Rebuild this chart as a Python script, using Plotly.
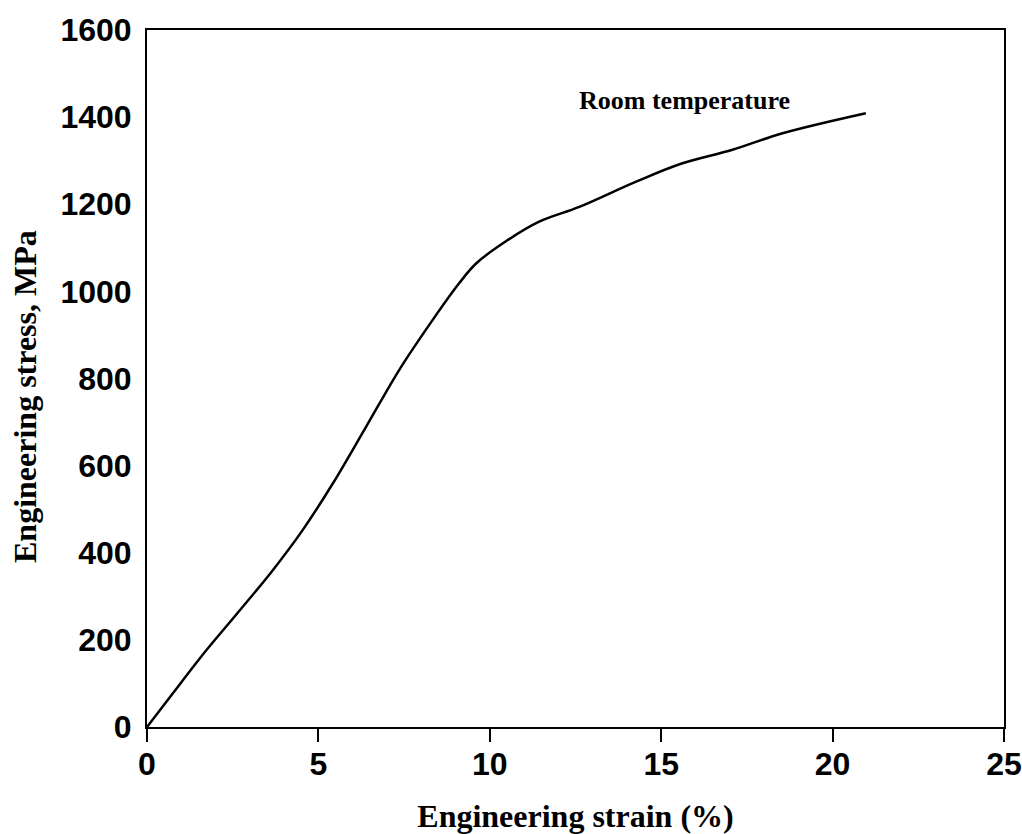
import plotly.graph_objects as go

strain = [0, 0.75, 1.73, 2.55, 3.67, 4.54, 5.42, 6.39, 7.36, 8.33, 9.11, 9.60,
          10.47, 11.44, 12.61, 14.27, 15.62, 17.08, 18.54, 20.97]
stress = [0, 77, 176, 253, 360, 452, 559, 689, 820, 934, 1019, 1064,
          1115, 1160, 1194, 1252, 1294, 1325, 1363, 1409]

x_ticks = [0, 5, 10, 15, 20, 25]
y_ticks = [0, 200, 400, 600, 800, 1000, 1200, 1400, 1600]

sans = "Liberation Sans, Arial, sans-serif"
serif = "Liberation Serif, Times New Roman, serif"

fig = go.Figure()
fig.add_trace(go.Scatter(x=strain, y=stress, mode="lines",
                         line=dict(color="black", width=2.5, shape="spline", smoothing=1.0),
                         showlegend=False, hoverinfo="skip"))

fig.add_annotation(x=12.55, y=1439, text="<b>Room temperature</b>", showarrow=False,
                   xanchor="left", yanchor="middle",
                   font=dict(family=serif, size=26, color="black"))

# y-axis title (placed as rotated annotation to match reference position)
fig.add_annotation(xref="paper", yref="paper", x=0, y=0.4735, xshift=-122,
                   text="<b>Engineering stress, MPa</b>", textangle=-90, showarrow=False,
                   xanchor="center", yanchor="middle",
                   font=dict(family=serif, size=32, color="black"))

fig.update_xaxes(range=[0, 25], tickvals=x_ticks, ticktext=[str(v) for v in x_ticks],
                 showgrid=False, zeroline=False,
                 showline=True, linecolor="black", linewidth=2, mirror=True,
                 ticks="outside", ticklen=13, tickwidth=2, tickcolor="black",
                 ticklabelstandoff=-5,
                 tickfont=dict(family=sans, size=32, color="black", weight="bold"),
                 title=dict(text="<b>Engineering strain (%)</b>", standoff=40,
                            font=dict(family=serif, size=32, color="black")))
fig.update_yaxes(range=[0, 1600], tickvals=y_ticks, ticktext=[str(v) for v in y_ticks],
                 showgrid=False, zeroline=False,
                 showline=True, linecolor="black", linewidth=2, mirror=True,
                 ticks="outside", ticklen=7, tickwidth=2, tickcolor="rgba(0,0,0,0)",
                 tickfont=dict(family=sans, size=32, color="black", weight="bold"))

fig.update_layout(width=1022, height=834, paper_bgcolor="white", plot_bgcolor="white",
                  margin=dict(l=147, r=18, t=30, b=107, autoexpand=False))

fig.write_html("out.html", config={"displayModeBar": False},
               post_script="document.body.style.margin='0';document.body.style.overflow='hidden';")
